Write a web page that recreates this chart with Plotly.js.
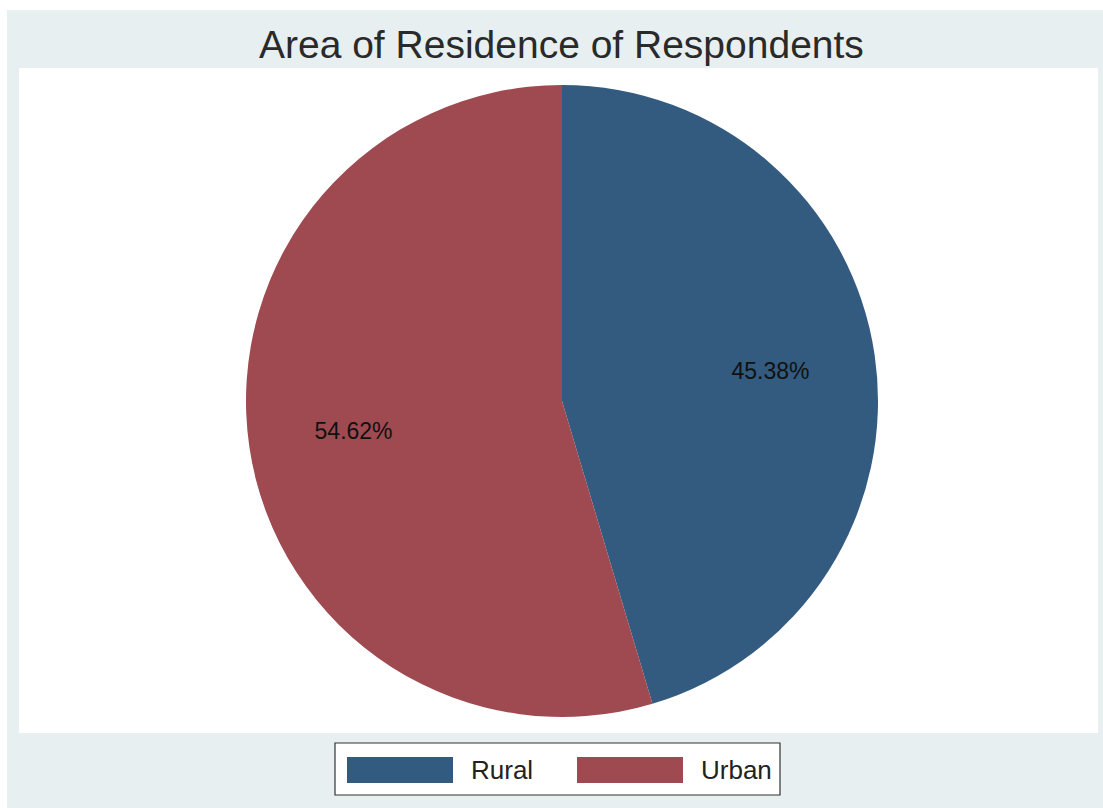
<!DOCTYPE html>
<html>
<head>
<meta charset="utf-8">
<script src="https://cdn.plot.ly/plotly-3.0.1.min.js"></script>
<style>html,body{margin:0;padding:0;background:#fff;}#chart{width:1103px;height:808px;}</style>
</head>
<body>
<div id="chart"></div>
<script>
const categories = ["Rural", "Urban"];
const percents = [45.38, 54.62];
const colors = ["#335a7f", "#9e4a50"];
const titleText = "Area of Residence of Respondents";

const W = 1103, H = 808;
const px = v => v / W, py = v => 1 - v / H;

const pieDomain = {x: [px(246), px(878)], y: [py(717), py(85)]};

const traces = [
  {
    type: "pie",
    labels: categories,
    values: percents,
    sort: false,
    direction: "clockwise",
    rotation: 0,
    marker: {colors: colors, line: {width: 0}},
    textinfo: "none",
    hoverinfo: "label+percent",
    showlegend: false,
    domain: pieDomain
  },
  {
    type: "pie",
    labels: categories,
    values: percents,
    sort: false,
    direction: "clockwise",
    rotation: 0,
    hole: 1/3,
    marker: {colors: ["rgba(0,0,0,0)", "rgba(0,0,0,0)"], line: {width: 0}},
    texttemplate: "%{percent:.2%}",
    textposition: "inside",
    insidetextorientation: "horizontal",
    textfont: {family: "Liberation Sans, Arial, sans-serif", size: 23, color: "#111"},
    hoverinfo: "skip",
    showlegend: false,
    domain: pieDomain
  }
];

// custom legend built from categories / colors
const shapes = [
  {type: "rect", xref: "paper", yref: "paper", x0: px(7), x1: px(1103), y0: py(808), y1: py(10), fillcolor: "#e8eff1", line: {width: 0}, layer: "below"},
  {type: "rect", xref: "paper", yref: "paper", x0: px(19), x1: px(1098), y0: py(733), y1: py(68), fillcolor: "#ffffff", line: {width: 0}, layer: "below"},
  {type: "rect", xref: "paper", yref: "paper", x0: px(335), x1: px(780), y0: py(795), y1: py(743), fillcolor: "#ffffff", line: {width: 1.2, color: "#333"}, layer: "below"}
];
const annotations = [];
const legendX = [347, 577];
categories.forEach((c, i) => {
  shapes.push({type: "rect", xref: "paper", yref: "paper", x0: px(legendX[i]), x1: px(legendX[i] + 106), y0: py(783), y1: py(757), fillcolor: colors[i], line: {width: 0}});
  annotations.push({xref: "paper", yref: "paper", x: px(legendX[i] + 122), y: py(770), xanchor: "left", yanchor: "middle", text: c, showarrow: false, font: {family: "Liberation Sans, Arial, sans-serif", size: 26, color: "#222"}});
});

const layout = {
  width: W, height: H,
  margin: {l: 0, r: 0, t: 0, b: 0},
  paper_bgcolor: "#ffffff",
  title: {text: titleText, x: 0.509, xanchor: "center", y: py(44), yanchor: "middle", font: {family: "Liberation Sans, Arial, sans-serif", size: 39, color: "#2a2a2a"}},
  showlegend: false,
  shapes: shapes,
  annotations: annotations
};

Plotly.newPlot("chart", traces, layout, {displayModeBar: false, staticPlot: true});
</script>
</body>
</html>
